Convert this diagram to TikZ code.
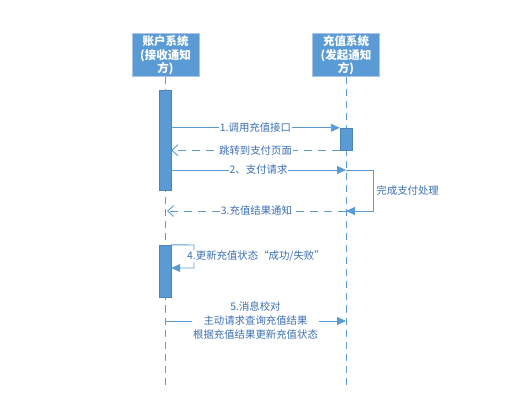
\documentclass[tikz,border=0pt]{standalone}
\usepackage{fontspec}
\setmainfont{Noto Sans CJK SC}
\usepackage{xcolor}
\usetikzlibrary{arrows.meta}

\definecolor{seqblue}{HTML}{5B9BD5}
\definecolor{seqedge}{HTML}{A9C4E6}
\definecolor{seqtext}{HTML}{3C70B4}

\tikzset{
  sysbox/.style = {draw=seqedge, line width=1pt, fill=seqblue, text=white,
                   font=\bfseries\fontsize{11.5}{13.5}\selectfont, align=center,
                   minimum width=67pt, minimum height=43pt, inner sep=0pt, text width=64pt},
  actbar/.style = {draw=seqblue!85!black, line width=0.4pt, fill=seqblue, minimum width=12pt, inner sep=0pt},
  lifeln/.style = {seqblue, line width=0.9pt, dash pattern=on 7pt off 5pt},
  msg/.style    = {seqblue, line width=0.9pt, -{Triangle[length=9pt,width=8pt]}},
  reply/.style  = {seqblue, line width=0.9pt, dash pattern=on 8pt off 6pt,
                   -{Straight Barb[length=6pt,width=11pt]}},
  lbl/.style    = {fill=white, text=seqtext, font=\fontsize{10.4}{14}\selectfont,
                   inner sep=1pt, align=center}
}

\begin{document}
\begin{tikzpicture}[x=1pt,y=1pt]
   \useasboundingbox (0,0) rectangle (517,-406);
   % systems
   \node[sysbox] (acct) at (165.5,-55.5) {账户系统\\(接收通知\\方)};
   \node[sysbox] (chg)  at (346,-55.5)   {充值系统\\(发起通知\\方)};
   \coordinate (acctEnd) at (165,-385);
   \coordinate (chgEnd)  at (346,-385);
   \draw[lifeln] (acct.south -| acctEnd) -- (acctEnd);
   \draw[lifeln] (chg.south -| chgEnd) -- (chgEnd);
   % activations
   \node[actbar, minimum height=100pt] (bar1) at (165,-140) {};
   \node[actbar, minimum height=22pt]  (bar2) at (346,-139) {};
   \node[actbar, minimum height=52pt]  (bar3) at (165,-271) {};
   % messages
   \draw[msg] (bar1.east |- bar2.north west) -- node[lbl] {1.调用充值接口} (bar2.north west);
   \draw[reply] (bar2.south west) -- node[lbl] {跳转到支付页面} (bar1.east |- bar2.south west);
   \coordinate (req)  at (346,-170);
   \coordinate (done) at (346,-211);
   \coordinate (turn) at (373,-170);
   \draw[msg] (bar1.east |- req) -- node[lbl] {2、支付请求} (req);
   \draw[msg] (req) -- (turn) -- node[lbl, right=2pt] {完成支付处理} (turn |- done) -- (done);
   \draw[reply] (done) -- node[lbl] {3.充值结果通知} (167,-211);
   \coordinate (self) at (194,-245);
   \draw[msg] (bar3.north east) -- (self) |- (bar3.east |- 0,-268);
   \node[lbl, anchor=west] (upd) at (186,-256) {4.更新充值状态“成功/失败”};
   \coordinate (chk) at (346,-321);
   \draw[msg] (acctEnd |- chk) -- node[lbl] {5.消息校对\\主动请求查询充值结果\\根据充值结果更新充值状态} (chk);
\end{tikzpicture}
\end{document}
